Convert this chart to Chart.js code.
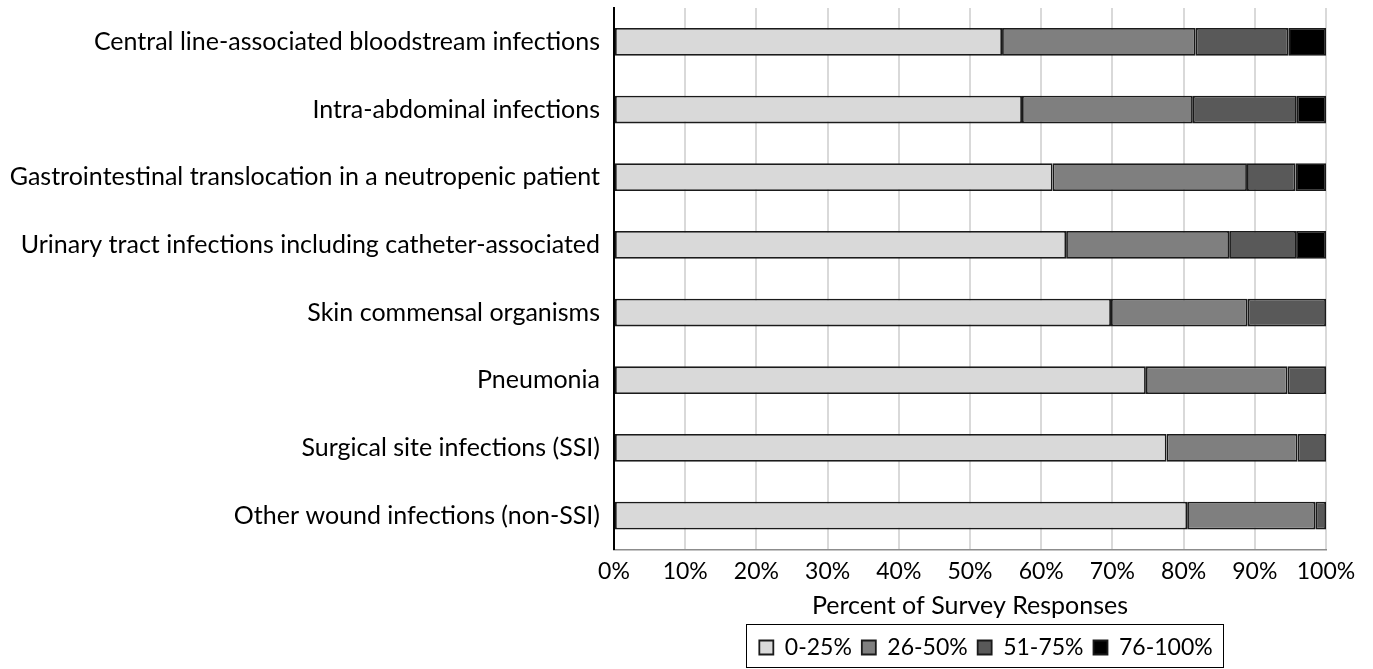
<!DOCTYPE html>
<html>
<head>
<meta charset="utf-8">
<script src="https://cdn.jsdelivr.net/npm/chart.js@4.4.0/dist/chart.umd.min.js"></script>
<style>
  html, body { margin: 0; padding: 0; background: #fff; }
  #wrap { width: 1373px; height: 669px; }
</style>
</head>
<body>
<div id="wrap"><canvas id="chart"></canvas></div>
<script>
const categories = [
  'Central line-associated bloodstream infections',
  'Intra-abdominal infections',
  'Gastrointestinal translocation in a neutropenic patient',
  'Urinary tract infections including catheter-associated',
  'Skin commensal organisms',
  'Pneumonia',
  'Surgical site infections (SSI)',
  'Other wound infections (non-SSI)'
];
const seriesNames = ['0-25%', '26-50%', '51-75%', '76-100%'];
const share0to25 = [54.5, 57.3, 61.6, 63.5, 69.8, 74.7, 77.6, 80.5];
const share26to50 = [27.2, 24.0, 27.3, 22.9, 19.2, 19.9, 18.4, 18.0];
const share51to75 = [13.0, 14.6, 6.8, 9.4, 11.0, 5.4, 4.0, 1.5];
const share76to100 = [5.3, 4.1, 4.3, 4.2, 0, 0, 0, 0];
const xTicks = [0, 10, 20, 30, 40, 50, 60, 70, 80, 90, 100];

const fills = ['#d9d9d9', '#7f7f7f', '#595959', '#000000'];
const FONT = "Lato, 'Open Sans', sans-serif";

// legend sits a bit right of the plot centre, with a box round it
const legendBox = {
  id: 'legendBox',
  afterLayout(chart) {
    chart.legend.left += 16;
    chart.legend.right += 16;
  },
  afterDraw(chart) {
    const boxes = chart.legend && chart.legend.legendHitBoxes;
    if (!boxes || !boxes.length) return;
    let l = Infinity, r = -Infinity, t = Infinity, b = -Infinity;
    boxes.forEach(h => {
      l = Math.min(l, h.left); r = Math.max(r, h.left + h.width);
      t = Math.min(t, h.top); b = Math.max(b, h.top + h.height);
    });
    const ctx = chart.ctx;
    ctx.save();
    ctx.strokeStyle = '#000';
    ctx.lineWidth = 1;
    ctx.strokeRect(Math.round(l - 13) + 0.5, Math.round(t - 12) + 0.5, Math.round(r - l + 24), Math.round(b - t + 20));
    ctx.restore();
  }
};

const data = [share0to25, share26to50, share51to75, share76to100];

new Chart(document.getElementById('chart').getContext('2d'), {
  type: 'bar',
  data: {
    labels: categories,
    datasets: data.map((vals, i) => ({
      label: seriesNames[i],
      data: vals,
      backgroundColor: fills[i],
      borderColor: '#1a1a1a',
      borderWidth: 1.8,
      borderSkipped: false,
      barPercentage: 0.41,
      categoryPercentage: 1
    }))
  },
  options: {
    indexAxis: 'y',
    responsive: true,
    maintainAspectRatio: false,
    animation: false,
    layout: { padding: { top: 8, right: 47, left: 8, bottom: 0 } },
    scales: {
      x: {
        stacked: true,
        min: 0,
        max: 100,
        afterBuildTicks: s => { s.ticks = xTicks.map(v => ({ value: v })); },
        ticks: {
          callback: v => v + '%',
          color: '#000',
          font: { family: FONT, size: 23, lineHeight: 1.2 },
          padding: 8,
          maxRotation: 0
        },
        grid: { color: '#d9d9d9', lineWidth: 2, drawTicks: false },
        border: { color: '#8c8c8c', width: 1.5 },
        title: {
          display: true,
          text: 'Percent of Survey Responses',
          color: '#000',
          font: { family: FONT, size: 25, lineHeight: 1 },
          padding: { top: 0, bottom: 8 }
        }
      },
      y: {
        stacked: true,
        grid: { display: false },
        border: { color: '#000', width: 2 },
        ticks: {
          color: '#000',
          font: { family: FONT, size: 25, lineHeight: 1.2 },
          padding: 6
        },
        afterFit: s => { s.width = 606; s.paddingTop = 0; s.paddingBottom = 0; }
      }
    },
    plugins: {
      legend: {
        position: 'bottom',
        fullSize: false,
        labels: {
          color: '#000',
          font: { family: FONT, size: 23, lineHeight: 1.2 },
          boxWidth: 14,
          boxHeight: 14,
          padding: 10
        }
      },
      tooltip: { enabled: false }
    }
  },
  plugins: [legendBox]
});
</script>
</body>
</html>
